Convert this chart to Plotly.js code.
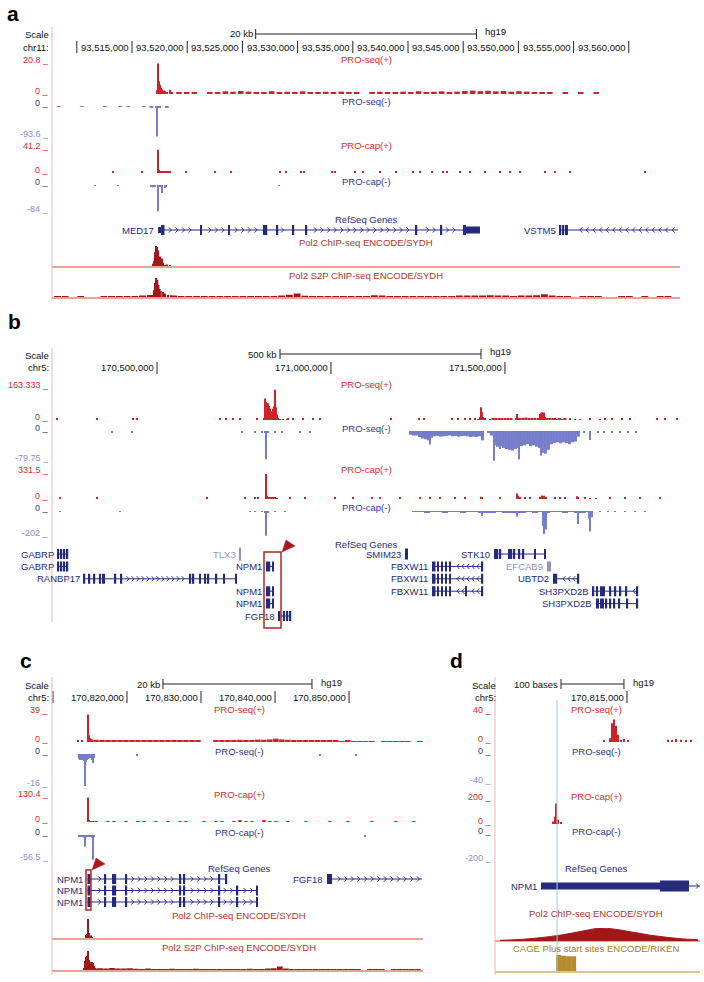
<!DOCTYPE html>
<html>
<head>
<meta charset="utf-8">
<script src="https://cdn.plot.ly/plotly-3.0.1.min.js"></script>
<style>
html,body{margin:0;padding:0;background:#fff;}
#chart{width:704px;height:982px;}
</style>
</head>
<body>
<div id="chart"></div>
<script>
/* ======================= DATA ======================= */
/* ---- Panel a : chr11, coordinates in kb ---- */
const aRange = [93507.75, 93564.64];
const aTicks = [93510, 93515, 93520, 93525, 93530, 93535, 93540, 93545, 93550, 93555, 93560];
const aTickLabels = ['', '93,515,000', '93,520,000', '93,525,000', '93,530,000', '93,535,000', '93,540,000', '93,545,000', '93,550,000', '93,555,000', '93,560,000'];
const aScaleBar = [93526.2, 93546.2];
const aLimits = [20.8, -93.6, 41.2, -84];

const aSeqPlusX = [93517.25, 93517.35, 93517.45, 93517.55, 93517.65, 93517.75, 93517.88, 93518.02, 93518.2, 93518.42, 93518.62];
const aSeqPlusY = [2.5, 20.4, 8.5, 6.0, 4.2, 3.0, 2.3, 1.8, 1.4, 2.8, 1.2];
const aSeqPlusBgStart = 93518.9, aSeqPlusBgBin = 0.7;
const aSeqPlusBg = [1.0,0.8,1.3,0,0.9,1.2,1.8,1.5,2.0,1.6, 1.3,0.9,1.9,1.2,1.5,1.0,1.8,1.3,0.8,1.5, 1.2,1.6,0.9,1.3,0,1.0,1.5,1.2,0.9,1.6, 1.3,1.9,1.2,1.5,1.8,1.3,1.6,2.0,2.3,1.9, 2.2,1.8,2.0,1.5,1.9,1.6,1.3,1.2,0.9,0, 0.8,0,0.8,0,0.9];

const aSeqMinusX = [93517.16, 93517.26, 93517.36];
const aSeqMinusY = [-4, -92, -6];
const aSeqMinusBgStart = 93508.0, aSeqMinusBgBin = 0.7;
const aSeqMinusBg = [-3,0,0,-3,0,0,-3,0,-3,-3,0,-3,-4,-4,-4];

const aCapPlusX = [93517.35, 93517.45, 93517.6, 93517.8, 93518.0, 93518.2, 93518.4];
const aCapPlusY = [40, 5, 3, 2.5, 2.5, 2, 3];
const aCapPlusDotX = [93513.28, 93515.91, 93518.26, 93519.89, 93522.52, 93523.97, 93528.41, 93528.95, 93530.31, 93530.58, 93533.12, 93533.39, 93535.20, 93535.92, 93537.46, 93538.91, 93540.45, 93541.09, 93542.17, 93543.17, 93543.53, 93544.71, 93545.62, 93546.98, 93548.33, 93549.24, 93550.14, 93552.41, 93553.31, 93554.67, 93561.47];
const aCapPlusDotY = [2.5,2,3,2,2.5,2,2.5,3,2.5,3,2,2.5,3.5,2.5,3,2.5,3,4,2.5,3,2.5,3,2.5,3,2.5,3,4,3,2.5,3,2.5];

const aCapMinusX = [93511.65, 93513.73, 93516.75, 93516.9, 93517.1, 93517.35, 93517.55, 93517.75, 93517.95, 93518.1, 93528.32];
const aCapMinusY = [-3, -3, -5, -7, -5, -82, -4, -25, -9, -4, -3];

const aPol2X = [93516.9, 93517.0, 93517.1, 93517.2, 93517.3, 93517.4, 93517.5, 93517.6, 93517.7, 93517.8, 93517.9, 93518.0, 93518.2, 93518.4];
const aPol2Y = [15, 30, 70, 100, 95, 80, 50, 35, 40, 20, 10, 8, 12, 6];

const aS2pX = [93516.5, 93516.8, 93517.0, 93517.1, 93517.2, 93517.3, 93517.4, 93517.5, 93517.6, 93517.8, 93518.0, 93518.3, 93518.6, 93519.0];
const aS2pY = [8, 15, 40, 75, 100, 90, 65, 45, 35, 30, 22, 15, 12, 8];
const aS2pBgStart = 93507.9, aS2pBgBin = 0.7;
const aS2pBg = [6,6,5,6,5,3,6,8,8,9, 10,13,15,0,0,12,9,8,9,10, 9,8,10,9,8,6,8,6,8,13, 16,22,11,8,8,9,8,9,8,9, 10,14,13,9,10,9,8,9,8,9, 9,10,12,13,12,13,14,13,12,10, 12,13,14,19,13,9,8,0,8,6, 6,5,0,6,8,5,6,0,8,6,5];

const aGeneNames = ['MED17', 'VSTM5'];
const aGeneStart = [93517.36, 93553.77];
const aGeneEnd = [93546.52, 93564.46];
const aGeneRow = [0, 0];
const aGeneStrand = ['+', '-'];
const aGeneLight = [false, false];
const aGeneExons = [
  [[93517.36,93517.63,0.6],[93517.63,93517.94],[93521.21,93521.30],[93523.74,93523.83],[93526.96,93527.05],[93527.14,93527.23],[93528.13,93528.23],[93529.58,93529.67],[93530.76,93530.85],[93540.73,93540.82],[93542.99,93543.08],[93545.07,93545.25],[93545.25,93546.52,0.7]],
  [[93553.77,93553.86],[93554.04,93554.13],[93554.22,93554.49]]
];

/* ---- Panel b : chr5, coordinates in kb ---- */
const bRange = [170198.2, 172003.1];
const bTicks = [170500, 171000, 171500];
const bTickLabels = ['170,500,000', '171,000,000', '171,500,000'];
const bScaleBar = [170853.5, 171431.2];
const bLimits = [163.333, -79.75, 331.5, -202];
const bHighlight = [170807.5, 170856.4];

const bSeqPlusX = [170807.5,170810.4,170813.3,170816.1,170819.0,170821.9,170824.8,170827.6,170830.5,170833.4,170836.3,170839.1,170842.0,170844.9,170847.8,170853.5,170862.1,170873.6, 171422.6,171428.3,171431.2,171434.1,171436.9,171442.7,171457.0, 171531.8,171534.6,171537.5,171543.3,171551.9,171560.5,171569.1,171577.8,171586.4,171595.0, 171600.7,171603.6,171606.5,171609.4,171612.2,171615.1,171620.9,171629.5, 171643.9,171658.2,171672.6,171687.0,171701.3,171715.7,171744.4,171773.2];
const bSeqPlusY = [10,110,90,80,85,72,58,45,40,58,70,155,65,28,8,4,4,3, 5,15,65,40,15,6,4, 8,30,12,10,10,12,10,9,10,10, 30,35,40,28,38,15,10,5, 6,8,5,6,5,4,8,4];
const bSeqPlusLowX = [171465.6,171474.3,171482.9,171491.5,171500.1,171508.8,171517.4,171543.3,171551.9,171560.5,171569.1,171577.8,171586.4,171620.9,171629.5,171638.1,171646.7,171655.3,171664.0,171672.6];
const bSeqPlusLowY = [6,9,8,7,9,8,7,10,11,12,10,9,11,8,6,7,5,6,5,6];
const bSeqPlusDotX = [170212.6,170327.6,170431.0,170442.5,170681.1,170698.3,170718.4,170738.5,170787.4,170876.5,170890.9,170919.6,170948.3,170968.5,171172.5,171253.0,171267.4,171347.8,171365.1,171385.2,171399.6,171414.0,171471.4,171482.9,171787.6,171807.7,171836.4,171859.4,171937.0,171960.0,171994.5];
const bSeqPlusDotY = [6,6,6,6,6,6,6,6,6,6,6,6,6,6,6,6,6,6,6,6,6,6,6,6,6,6,6,6,6,6,6];

const bSeqMinusX = [170810.4,170813.3,170819.0,171284.6,171468.5,171485.8,171540.4,171603.6,171615.1,171744.4];
const bSeqMinusY = [-4,-75,-4,-36,-79,-48,-75,-65,-58,-24];
const bSeqMinusDotX = [170370.7,170428.2,170744.3,170781.7,170801.8,170839.1,170859.3,170911.0,170939.7,171727.2,171767.4,171784.7,171807.7,171830.7,171853.7,171876.6];
const bSeqMinusDotY = [-3,-3,-3,-3,-3,-3,-3,-3,-3,-3,-3,-3,-3,-3,-3,-3];
const bSeqMinusGridStart = 171224.2, bSeqMinusGridBin = 8.62;
const bSeqMinusGrid = [-10,-12,-12,-16,-20,-22,-25, -18,-14,-13,-15,-14,-13,-12,-14,-13,-15,-14,-13,-14,-16, -15,-16,-14,-25, 0,-3,-12, -38,-42,-40,-45,-48, -50,-52,-48,-45, -40,-38,-35,-40, -38,-42,-45, -58,-60,-50, -35,-32,-30,-33, -30,-32,-35,-30,-28,-15];

const bCapPlusX = [170813.3,170816.1,170821.9,170827.6,170833.4,170839.1,170844.9,171431.2,171434.1,171534.6,171537.5,171543.3,171600.7,171606.5,171612.2,171618.0,171658.2,171707.1,171710.0,171744.4,171761.7];
const bCapPlusY = [320,40,15,20,15,25,10,28,15,70,40,20,30,45,40,20,15,35,20,12,10];
const bCapPlusDotX = [170221.2,170327.6,170643.7,170752.9,170781.7,170790.3,170882.2,170925.4,171011.6,171063.3,171117.9,171140.9,171198.4,171255.9,171284.6,171313.3,171356.5,171385.2,171485.8,171557.6,171572.0,171643.9,171672.6,171730.1,171801.9,171845.0,171888.1,171945.6];
const bCapPlusDotY = [16,16,16,16,16,16,16,16,16,16,16,16,16,16,16,16,16,16,16,16,16,16,16,16,16,16,16,16];

const bCapMinusX = [170810.4,170813.3,170819.0,171434.1,171534.6,171609.4,171612.2,171618.0,171710.0,171741.5,171744.4,171750.2];
const bCapMinusY = [-10,-200,-10,-40,-45,-120,-185,-150,-105,-60,-165,-50];
const bCapMinusDotX = [170221.2,170393.7,170767.3,170781.7,170801.8,170839.1,170867.9,171773.2,171796.2,171816.3,171845.0,171873.8,171902.5];
const bCapMinusDotY = [-8,-8,-8,-8,-8,-8,-8,-8,-8,-8,-8,-8,-8];
const bCapMinusGridStart = 171232.9, bCapMinusGridBin = 17.24;
const bCapMinusGrid = [-8,-8,-9,-8,-8,-9,-8,-8,-9,-8, -8,-9,-10,-9,-8,-9,-9,-10,-9,-8, -9,-8,-9,-8,-8,-9,-8,-9,-10,-8];

const bGeneNames = ['GABRP','GABRP','RANBP17','TLX3','NPM1','NPM1','NPM1','FGF18','SMIM23','STK10','EFCAB9','FBXW11','FBXW11','FBXW11','UBTD2','SH3PXD2B','SH3PXD2B'];
const bGeneRow = [0,1,2,0,1,3,4,5,0,0,1,1,2,3,2,3,4];
const bGeneStart = [170215.47,170215.47,170290.20,170737.1,170813.27,170813.27,170813.27,170850.63,171212.75,171468.54,171620.86,171290.35,171290.35,171290.35,171638.10,171753.06,171761.69];
const bGeneEnd = [170244.21,170244.21,170729.92,170739.97,170836.26,170836.26,170836.26,170885.12,171221.37,171616.55,171632.36,171436.92,171436.92,171436.92,171712.83,171882.39,171882.39];
const bGeneStrand = ['','','+','','+','+','+','+','','-','','-','-','-','-','-','-'];
const bGeneLight = [false,false,false,true,false,false,false,false,false,false,true,false,false,false,false,false,false];
const bGABRP = [[170215.47,170218.35],[170224.10,170226.97],[170232.72,170235.59],[170241.34,170244.21]];
const bNPM1 = [[170813.27,170817.58],[170821.89,170824.76],[170830.51,170836.26]];
const bFBXW11 = [[171290.35,171300.41],[171306.15,171309.03],[171317.65,171320.52],[171329.14,171332.02],[171340.64,171343.51],[171434.05,171436.92]];
const bGeneExons = [
  bGABRP, bGABRP,
  [[170290.20,170293.07],[170304.57,170307.44],[170318.94,170321.81],[170334.75,170337.62],[170341.93,170350.55],[170379.29,170382.17],[170396.54,170399.41],[170594.84,170597.72],[170603.46,170606.34],[170622.15,170625.02],[170636.52,170639.39],[170646.57,170649.45],[170669.57,170672.44],[170691.12,170694.00],[170724.17,170729.92]],
  [[170737.1,170739.97,1.3]],
  bNPM1, bNPM1, bNPM1,
  [[170850.63,170853.50],[170863.56,170866.44],[170873.62,170876.49],[170882.24,170885.12]],
  [[171212.75,171221.37,1.1]],
  [[171468.54,171474.29],[171477.16,171480.03],[171485.78,171488.66],[171508.77,171513.09],[171517.40,171520.27],[171526.02,171528.89],[171540.39,171543.26],[171551.88,171554.76],[171584.94,171587.81],[171613.68,171616.55]],
  [[171620.86,171632.36]],
  bFBXW11, bFBXW11,
  bFBXW11.concat([[171386.62,171389.50]]),
  [[171638.10,171643.85],[171646.73,171649.60],[171709.95,171712.83]],
  [[171753.06,171755.94],[171763.12,171766.00],[171773.18,171787.55],[171801.92,171804.80],[171816.29,171819.17],[171830.66,171833.54],[171847.91,171850.78],[171879.52,171882.39]],
  [[171761.69,171770.31],[171773.18,171784.68],[171790.43,171793.30],[171801.92,171804.80],[171813.42,171816.29],[171827.79,171830.66],[171850.78,171853.66],[171879.52,171882.39]]
];

/* ---- Panel c : chr5, coordinates in kb ---- */
const cRange = [170809.87, 170859.99];
const cTicks = [170810, 170820, 170830, 170840, 170850];
const cTickLabels = ['', '170,820,000', '170,830,000', '170,840,000', '170,850,000'];
const cScaleBar = [170824.86, 170844.99];
const cLimits = [39, -16, 130.4, -56.5];
const cHighlight = [170814.46, 170815.14];

const cSeqPlusX = [170813.38, 170813.92, 170814.73, 170814.87, 170815.00, 170815.14, 170815.27];
const cSeqPlusY = [1.5, 1.5, 37, 9, 5, 4, 3.5];
const cSeqPlusBgStart = 170815.41, cBgBin = 0.81;
const cSeqPlusBg = [3,2.5,2,2.5,2,2.2,2.5,1.8,2,2.4, 2.2,2,2.5,2.8,2.2,2,2.5,2.6,0,0, 2.2,2.5,2.4,2.8,3,2.6,2.5,3.2,3,3.5, 4.5,3.5,3,2.8,2.6,2.4,2.2,2,1.8,1.5, 1.5,1.2,1.5,1.2,1,1.2,1,0,1.2,1, 0.8,1,1.2,0,0.8];

const cSeqMinusX = [170813.51,170813.65,170813.79,170813.92,170814.06,170814.19,170814.33,170814.46,170814.60,170814.73,170815.00,170815.27,170815.41,170815.54,170821.35,170846.07,170850.94];
const cSeqMinusY = [-2.5,-3,-2.5,-3,-2,-3.5,-16,-4,-3,-2.5,-2,-3,-4.5,-2,-1,-0.6,-0.6];

const cCapPlusX = [170814.73, 170814.87, 170815.14, 170815.41];
const cCapPlusY = [128, 8, 5, 4];
const cCapPlusBg = [5,0,5,5,0,5,0,5,5,0, 5,0,5,0,5,5,0,0,5,0, 5,5,0,5,6,5,5,0,6,5, 5,0,5,0,0,5,0,0,0,5, 0,0,5,0,0,0,5,0,0,0, 5,0,0,5,0];

const cCapMinusX = [170813.51,170813.79,170814.06,170814.33,170814.46,170814.73,170815.00,170815.27,170815.41,170815.54,170852.15];
const cCapMinusY = [-4,-3,-5,-26,-5,-3,-4,-6,-56,-5,-3];

const cPol2X = [170814.46,170814.60,170814.73,170814.87,170815.00,170815.14,170815.27];
const cPol2Y = [20,25,100,30,15,18,8];

const cS2pX = [170814.19,170814.33,170814.46,170814.60,170814.73,170814.87,170815.00,170815.14,170815.27,170815.41,170815.54,170815.68,170815.81];
const cS2pY = [15,50,70,75,100,55,45,35,45,40,25,15,12];
const cS2pBgStart = 170815.95;
const cS2pBg = [14,12,15,13,12,14,11,10,12,10, 10,9,11,10,9,10,11,9,10,9, 10,9,10,8,10,11,9,10,12,14, 22,12,10,9,8,9,8,10,9,8, 8,9,7,8,0,8,9,8,0,7, 8,7,8,7];

const cGeneNames = ['NPM1','NPM1','NPM1','FGF18'];
const cGeneRow = [0,1,2,0];
const cGeneStart = [170814.66,170814.66,170814.66,170847.02];
const cGeneEnd = [170833.51,170837.70,170837.70,170859.85];
const cGeneStrand = ['+','+','+','+'];
const cGeneLight = [false,false,false,false];
const cNPM1long = [[170814.66,170815.07],[170817.03,170817.16],[170818.11,170818.24],[170818.38,170818.51],[170819.86,170820.00],[170827.16,170827.30],[170827.70,170827.84],[170832.43,170832.56],[170834.86,170835.00],[170837.43,170837.70]];
const cGeneExons = [
  [[170814.66,170815.07],[170817.03,170817.16],[170818.11,170818.24],[170818.38,170818.51],[170819.86,170820.00],[170827.16,170827.30],[170827.70,170827.84],[170832.43,170832.56],[170833.38,170833.51]],
  cNPM1long, cNPM1long,
  [[170847.02,170847.70]]
];

/* ---- Panel d : chr5, coordinates in bp ---- */
const dRange = [170814790.5, 170815115.9];
const dTicks = [170815000];
const dTickLabels = ['170,815,000'];
const dScaleBar = [170814895.3, 170814995.2];
const dLimits = [40, -40, 200, -200];
const dCursor = 170814889;

const dSeqPlusX = [170814963.5,170814973.0,170814976.2,170814977.8,170814979.4,170814981.0,170814982.5,170814985.7,170814990.5,170814995.2,170815001.6,170815065.1,170815071.4,170815077.8,170815085.7,170815093.6,170815101.6];
const dSeqPlusY = [2,5,26,18,31,20,22,10,3,4,2,3,2,4,3,2,3];
const dCapPlusX = [170814882.6,170814885.7,170814887.3,170814890.5,170814895.3];
const dCapPlusY = [20,60,170,35,15];
const dPol2X = [170814798.5,170814830.2,170814861.9,170814893.7,170814917.5,170814933.3,170814949.2,170814957.2,170814973.0,170814988.9,170815012.7,170815036.5,170815060.3,170815084.1,170815112.7];
const dPol2Y = [5,12,25,45,65,80,95,100,95,85,65,45,30,18,10];
const dCageX = [170814891.3,170814899.3,170814907.3,170814915.3];
const dCageY = [100,95,92,92];

const dGeneNames = ['NPM1'];
const dGeneRow = [0];
const dGeneStart = [170814863.5];
const dGeneEnd = [170815115.9];
const dGeneStrand = ['+'];
const dGeneLight = [false];
const dGeneExons = [[[170814863.5,170815052.4,0.64],[170815052.4,170815098.4]]];

/* ======================= STYLE / DRAWING ======================= */
const FONT = '"Liberation Sans", Arial, Helvetica, sans-serif';
const COL = {
  red:'#d62e2c', redBar:'#d0202a', blueTxt:'#2e378f', blueLight:'#8a8ecf', blueBar:'#777ccb',
  navy:'#252a7c', navyLight:'#8f93c6', brick:'#b0352b', pol2:'#a3171b', pol2Base:'#e8a395',
  pink:'#efb4b4', box:'#b32424', cage:'#b58b2f', cageTxt:'#a47b1e', cageBase:'#ddc38f',
  cyan:'#92d3e4', black:'#111111'
};
const W = 704, H = 982;
const PX = v => v / W, PY = v => 1 - v / H;
const traces = [], annotations = [], shapes = [];
const layout = {
  width: W, height: H, margin: {l:0, r:0, t:0, b:0, pad:0},
  paper_bgcolor: '#ffffff', plot_bgcolor: 'rgba(0,0,0,0)',
  showlegend: false, barmode: 'overlay', hovermode: false,
  font: {family: FONT, size: 10, color: COL.black},
  annotations: annotations, shapes: shapes
};

function panel(xa, key, range, left, right, lab, rlab, mid) {
  layout[key] = {domain:[PX(left), PX(right)], range: range.slice(), visible:false, fixedrange:true};
  return {xa:xa, range:range, left:left, right:right, lab:lab, rlab:rlab, mid:mid, upp:(range[1]-range[0])/(right-left)};
}
const PA = panel('x',  'xaxis',  aRange, 52, 680, 50, 50, 366);
const PB = panel('x2', 'xaxis2', bRange, 52, 680, 50, 50, 366);
const PC = panel('x3', 'xaxis3', cRange, 52, 423, 50, 50, 239);
const PD = panel('x4', 'xaxis4', dRange, 495, 700, 493, 497, 596);
function toPx(p, v) { return p.left + (v - p.range[0]) / p.upp; }

let yCount = 0;
function newY(top, bot, range) {
  yCount++;
  const key = yCount === 1 ? 'yaxis' : 'yaxis' + yCount;
  layout[key] = {domain:[PY(bot), PY(top)], range: range, visible:false, fixedrange:true};
  return yCount === 1 ? 'y' : 'y' + yCount;
}
function label(t, x, y, color, size, xanchor) {
  annotations.push({text:t, x:PX(x), y:PY(y), xref:'paper', yref:'paper', showarrow:false,
    xanchor:xanchor || 'center', yanchor:'middle', borderpad:0,
    font:{family:FONT, size:size || 9.5, color:color || COL.black}});
}
function bars(p, ya, x, y, w, color) {
  traces.push({type:'bar', x:x, y:y, width:w, xaxis:p.xa, yaxis:ya,
    marker:{color:color, line:{width:0}}, hoverinfo:'skip'});
}
function binCenters(start, bin, n) { const o = []; for (let i = 0; i < n; i++) o.push(start + bin * (i + 0.5)); return o; }
function vline(xref, x, y0, y1, color, width) {
  shapes.push({type:'line', xref:xref, yref:'paper', x0:x, x1:x, y0:PY(y0), y1:PY(y1), line:{color:color, width:width || 1}});
}

function ruler(p, scaleY, chromY, chrom, ticks, tickLabels, bar, barText) {
  label('Scale', p.rlab, scaleY + 1, COL.black, 9.5, 'right');
  label(chrom, p.rlab, chromY, COL.black, 9.5, 'right');
  shapes.push({type:'line', xref:p.xa, yref:'paper', x0:bar[0], x1:bar[1], y0:PY(scaleY), y1:PY(scaleY), line:{color:'#222', width:1}});
  bar.forEach(b => vline(p.xa, b, scaleY - 5, scaleY + 5, '#222', 1));
  const f = {family:FONT, size:9.5, color:COL.black};
  annotations.push({text:barText, x:bar[0], xref:p.xa, y:PY(scaleY), yref:'paper', xanchor:'right', yanchor:'middle', xshift:-2, showarrow:false, borderpad:0, font:f});
  annotations.push({text:'hg19', x:bar[1], xref:p.xa, y:PY(scaleY - 2), yref:'paper', xanchor:'left', yanchor:'middle', xshift:8, showarrow:false, borderpad:0, font:f});
  ticks.forEach((t, i) => {
    vline(p.xa, t, chromY - 6, chromY + 6, '#222', 1);
    if (tickLabels[i]) annotations.push({text:tickLabels[i], x:t, xref:p.xa, y:PY(chromY), yref:'paper', xanchor:'right', yanchor:'middle', xshift:-2, showarrow:false, borderpad:0, font:f});
  });
}

function signal(p, top, bot, limit, parts, title, titleY) {
  const range = limit > 0 ? [0, limit] : [limit, 0];
  const ya = newY(top, bot, range);
  parts.forEach(s => bars(p, ya, s[0], s[1], s[2], limit > 0 ? COL.redBar : COL.blueBar));
  if (limit > 0) {
    label(limit + ' _', p.lab, top - 3, COL.red, 9, 'right');
    label('0 _', p.lab, bot - 3, COL.red, 9, 'right');
  } else {
    label('0 _', p.lab, top - 3, COL.blueTxt, 9, 'right');
    label(limit + ' _', p.lab, bot - 3, COL.blueLight, 9, 'right');
  }
  label(title, p.mid, titleY, limit > 0 ? COL.red : COL.blueTxt, 9.5, 'center');
  return ya;
}

function chip(p, top, base, parts, color, baseColor, title, titleY, titleColor, filled) {
  const pad = 1.2 * 100 / (base - top);
  const ya = newY(top, base + 1.2, [-pad, 100]);
  traces.push({type:'scatter', mode:'lines', x:p.range.slice(), y:[0, 0], xaxis:p.xa, yaxis:ya,
    line:{color:baseColor, width:2}, hoverinfo:'skip'});
  parts.forEach(s => bars(p, ya, s[0], s[1], s[2], color));
  if (filled) traces.push({type:'scatter', mode:'lines', x:filled[0], y:filled[1], xaxis:p.xa, yaxis:ya,
    fill:'tozeroy', fillcolor:color, line:{color:color, width:1, shape:'spline'}, hoverinfo:'skip'});
  label(title, p.mid, titleY, titleColor, 9.5, 'center');
  return ya;
}

function geneTrack(p, row0, spacing, nRows, names, starts, ends, rows, strands, exons, light, exH, chevSp) {
  const top = row0 - spacing * 0.9, bot = row0 + spacing * (nRows - 1) + spacing * 0.9;
  const ya = newY(top, bot, [(bot - row0) / spacing, (top - row0) / spacing]);
  const upp = p.upp;
  for (let g = 0; g < names.length; g++) {
    const col = light[g] ? COL.navyLight : COL.navy;
    const r = rows[g], ex = exons[g];
    traces.push({type:'scatter', mode:'lines', x:[starts[g], ends[g]], y:[r, r], xaxis:p.xa, yaxis:ya,
      line:{color:col, width:1}, hoverinfo:'skip'});
    if (strands[g]) {
      const sp = chevSp * upp, a = 2.4 * upp, b = 2.6 / spacing, dir = strands[g] === '+' ? 1 : -1;
      const X = [], Y = [];
      for (let x = starts[g] + sp; x < ends[g] - 1.5 * upp; x += sp) {
        if (ex.some(e => x > e[0] - 3 * upp && x < e[1] + 3 * upp + a)) continue;
        X.push(x - dir * a, x, x - dir * a, null); Y.push(r - b, r, r + b, null);
      }
      if (X.length) traces.push({type:'scatter', mode:'lines', x:X, y:Y, xaxis:p.xa, yaxis:ya,
        line:{color:col, width:0.9}, connectgaps:false, hoverinfo:'skip'});
    }
    const cx = [], h = [], base = [], w = [];
    ex.forEach(e => {
      const wd = Math.max(e[1] - e[0], 1.4 * upp), f = e[2] || 1, hh = exH * f / spacing;
      cx.push((e[0] + e[1]) / 2); w.push(wd); h.push(hh); base.push(r - hh / 2);
    });
    traces.push({type:'bar', x:cx, y:h, base:base, width:w, xaxis:p.xa, yaxis:ya,
      marker:{color:col, line:{width:0}}, hoverinfo:'skip'});
    annotations.push({text:names[g], x:starts[g], y:r, xref:p.xa, yref:ya, xanchor:'right', yanchor:'middle',
      xshift:-3, showarrow:false, borderpad:0, font:{family:FONT, size:9.5, color:col}});
  }
  return ya;
}

function highlight(p, range, y0, y1) {
  shapes.push({type:'rect', xref:p.xa, yref:'paper', x0:range[0], x1:range[1], y0:PY(y1), y1:PY(y0),
    line:{color:COL.box, width:1.5}, fillcolor:'rgba(0,0,0,0)'});
  const cx = toPx(p, range[1]) + 1, cy = y0;
  const path = 'M ' + PX(cx) + ' ' + PY(cy) + ' L ' + PX(cx + 4) + ' ' + PY(cy - 12) + ' L ' + PX(cx + 13) + ' ' + PY(cy - 6) + ' Z';
  shapes.push({type:'path', xref:'paper', yref:'paper', path:path, fillcolor:'#a8181c', line:{color:'#a8181c', width:0.5}});
}

/* ---------- Panel letters ---------- */
label('<b>a</b>', 13, 13, '#000', 21, 'center');
label('<b>b</b>', 14, 321, '#000', 21, 'center');
label('<b>c</b>', 26, 660, '#000', 21, 'center');
label('<b>d</b>', 456, 660, '#000', 21, 'center');

/* ---------- Panel a ---------- */
ruler(PA, 34, 47, 'chr11:', aTicks, aTickLabels, aScaleBar, '20 kb');
shapes.push({type:'line', xref:'paper', yref:'paper', x0:PX(52), x1:PX(52), y0:PY(27), y1:PY(300), line:{color:COL.pink, width:1}});
signal(PA, 63, 94, aLimits[0], [
  [aSeqPlusX, aSeqPlusY, 0.1],
  [binCenters(aSeqPlusBgStart, aSeqPlusBgBin, aSeqPlusBg.length), aSeqPlusBg, 0.5]
], 'PRO-seq(+)', 60);
signal(PA, 106, 137, aLimits[1], [
  [aSeqMinusX, aSeqMinusY, 0.1],
  [binCenters(aSeqMinusBgStart, aSeqMinusBgBin, aSeqMinusBg.length), aSeqMinusBg, 0.35]
], 'PRO-seq(-)', 102);
signal(PA, 149, 173, aLimits[2], [
  [aCapPlusX, aCapPlusY, 0.1],
  [aCapPlusDotX, aCapPlusDotY, 0.14]
], 'PRO-cap(+)', 145);
signal(PA, 185, 212, aLimits[3], [
  [aCapMinusX, aCapMinusY, 0.1]
], 'PRO-cap(-)', 182);
label('RefSeq Genes', PA.mid, 219, COL.navy, 9.5, 'center');
geneTrack(PA, 230, 12, 1, aGeneNames, aGeneStart, aGeneEnd, aGeneRow, aGeneStrand, aGeneExons, aGeneLight, 10, 6.6);
chip(PA, 246, 267, [[aPol2X, aPol2Y, 0.1]], COL.pol2, COL.pol2Base, 'Pol2 ChIP-seq ENCODE/SYDH', 242, COL.brick);
chip(PA, 278, 298, [
  [binCenters(aS2pBgStart, aS2pBgBin, aS2pBg.length), aS2pBg, 0.62],
  [aS2pX, aS2pY, 0.16]
], COL.pol2, COL.pol2Base, 'Pol2 S2P ChIP-seq ENCODE/SYDH', 275, COL.brick);

/* ---------- Panel b ---------- */
ruler(PB, 354, 368, 'chr5:', bTicks, bTickLabels, bScaleBar, '500 kb');
shapes.push({type:'line', xref:'paper', yref:'paper', x0:PX(52), x1:PX(52), y0:PY(348), y1:PY(622), line:{color:COL.pink, width:1}});
signal(PB, 388, 420, bLimits[0], [
  [bSeqPlusLowX, bSeqPlusLowY, 8.6],
  [bSeqPlusX, bSeqPlusY, 2.9],
  [bSeqPlusDotX, bSeqPlusDotY, 4]
], 'PRO-seq(+)', 385);
signal(PB, 431, 461, bLimits[1], [
  [binCenters(bSeqMinusGridStart, bSeqMinusGridBin, bSeqMinusGrid.length), bSeqMinusGrid, 8.62],
  [bSeqMinusX, bSeqMinusY, 2.9],
  [bSeqMinusDotX, bSeqMinusDotY, 5]
], 'PRO-seq(-)', 428);
signal(PB, 473, 499, bLimits[2], [
  [bCapPlusX, bCapPlusY, 2.9],
  [bCapPlusDotX, bCapPlusDotY, 4]
], 'PRO-cap(+)', 469);
signal(PB, 511, 536, bLimits[3], [
  [binCenters(bCapMinusGridStart, bCapMinusGridBin, bCapMinusGrid.length), bCapMinusGrid, 17.24],
  [bCapMinusX, bCapMinusY, 2.9],
  [bCapMinusDotX, bCapMinusDotY, 4]
], 'PRO-cap(-)', 507);
label('RefSeq Genes', PB.mid, 544, COL.navy, 9.5, 'center');
geneTrack(PB, 554, 12.4, 6, bGeneNames, bGeneStart, bGeneEnd, bGeneRow, bGeneStrand, bGeneExons, bGeneLight, 10, 5);
highlight(PB, bHighlight, 552, 628);

/* ---------- Panel c ---------- */
ruler(PC, 684, 697, 'chr5:', cTicks, cTickLabels, cScaleBar, '20 kb');
shapes.push({type:'line', xref:'paper', yref:'paper', x0:PX(52), x1:PX(52), y0:PY(677), y1:PY(975), line:{color:COL.pink, width:1}});
signal(PC, 713, 742, cLimits[0], [
  [binCenters(cSeqPlusBgStart, cBgBin, cSeqPlusBg.length), cSeqPlusBg, 0.75],
  [cSeqPlusX, cSeqPlusY, 0.13]
], 'PRO-seq(+)', 709);
signal(PC, 754, 786, cLimits[1], [
  [cSeqMinusX, cSeqMinusY, 0.13]
], 'PRO-seq(-)', 751);
signal(PC, 797, 822, cLimits[2], [
  [binCenters(cSeqPlusBgStart, cBgBin, cCapPlusBg.length), cCapPlusBg, 0.45],
  [cCapPlusX, cCapPlusY, 0.13]
], 'PRO-cap(+)', 794);
signal(PC, 835, 860, cLimits[3], [
  [cCapMinusX, cCapMinusY, 0.13]
], 'PRO-cap(-)', 832);
label('RefSeq Genes', PC.mid, 868, COL.navy, 9.5, 'center');
geneTrack(PC, 879, 11.5, 3, cGeneNames, cGeneStart, cGeneEnd, cGeneRow, cGeneStrand, cGeneExons, cGeneLight, 10, 6.6);
highlight(PC, cHighlight, 870, 910);
chip(PC, 919, 939, [[cPol2X, cPol2Y, 0.13]], COL.pol2, COL.pol2Base, 'Pol2 ChIP-seq ENCODE/SYDH', 915, COL.brick);
chip(PC, 951, 971, [
  [binCenters(cS2pBgStart, cBgBin, cS2pBg.length), cS2pBg, 0.78],
  [cS2pX, cS2pY, 0.14]
], COL.pol2, COL.pol2Base, 'Pol2 S2P ChIP-seq ENCODE/SYDH', 947, COL.brick);

/* ---------- Panel d ---------- */
ruler(PD, 684, 697, 'chr5:', dTicks, dTickLabels, dScaleBar, '100 bases');
shapes.push({type:'line', xref:'paper', yref:'paper', x0:PX(495), x1:PX(495), y0:PY(677), y1:PY(975), line:{color:COL.pink, width:1}});
signal(PD, 713, 742, dLimits[0], [[dSeqPlusX, dSeqPlusY, 1.6]], 'PRO-seq(+)', 709);
signal(PD, 754, 783, dLimits[1], [], 'PRO-seq(-)', 751);
signal(PD, 800, 824, dLimits[2], [[dCapPlusX, dCapPlusY, 1.6]], 'PRO-cap(+)', 796);
signal(PD, 834, 861, dLimits[3], [], 'PRO-cap(-)', 831);
label('RefSeq Genes', PD.mid, 868, COL.navy, 9.5, 'center');
geneTrack(PD, 886, 12, 1, dGeneNames, dGeneStart, dGeneEnd, dGeneRow, dGeneStrand, dGeneExons, dGeneLight, 11, 4.5);
chip(PD, 928, 941, [], COL.pol2, COL.pol2Base, 'Pol2 ChIP-seq ENCODE/SYDH', 913, COL.brick, [dPol2X, dPol2Y]);
chip(PD, 955, 972, [[dCageX, dCageY, 8]], COL.cage, COL.cageBase, 'CAGE Plus start sites ENCODE/RIKEN', 948, COL.cageTxt);
vline(PD.xa, dCursor, 700, 972, COL.cyan, 1);

Plotly.newPlot('chart', traces, layout, {displayModeBar:false, responsive:false});
</script>
</body>
</html>
